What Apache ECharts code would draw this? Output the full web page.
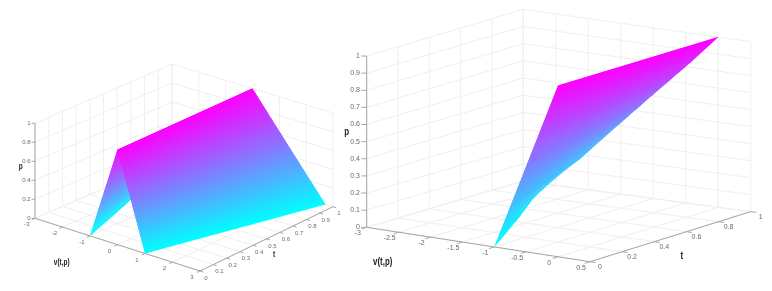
<!DOCTYPE html>
<html><head><meta charset="utf-8">
<style>html,body{margin:0;padding:0;background:#fff}#c{width:772px;height:291px;filter:blur(0.4px)}</style>
<script src="https://cdn.jsdelivr.net/npm/echarts@6/dist/echarts.min.js"></script>
</head><body><div id="c"></div>
<script>
// ---- data ----
const leftVTicks = [-3,-2,-1,0,1,2,3];
const leftTTicks = [0,0.1,0.2,0.3,0.4,0.5,0.6,0.7,0.8,0.9,1];
const leftPTicks = [0,0.2,0.4,0.6,0.8,1];
const rightVTicks = [-3,-2.5,-2,-1.5,-1,-0.5,0,0.5];
const rightTTicks = [0,0.2,0.4,0.6,0.8,1];
const rightPTicks = [0,0.1,0.2,0.3,0.4,0.5,0.6,0.7,0.8,0.9,1];

// branch v<0 of the surface: rows of constant p, from the t=0 edge to the far edge
const lowerP     = [0,0.05,0.1,0.135,0.17,0.2,0.23,0.294,0.433,0.63,0.824,1];
const lowerNearV = [-1,-0.95,-0.9,-0.865,-0.83,-0.8,-0.77,-0.706,-0.567,-0.37,-0.176,0];
const lowerFarV  = [-1,-1.39,-1.66,-1.74,-1.76,-1.785,-1.787,-1.82,-1.46,-0.947,-0.436,0];
const lowerFarT  = [0,0.3,0.51,0.62,0.705,0.785,0.86,1,1,1,1,1];
// branch v>0 of the surface (left panel)
const upperP     = [0,1];
const upperNearV = [1,0];
const upperFarV  = [2.72,0];
const upperFarT  = [1,1];

// ---- view of each panel ----
const leftView = {
  v:[-3,3], A:[35,218.3,123.3], B:[200,271,176], C:[333,206.7,113], D:[172,159,64],
  tick:3.5, vOff:[-8,6.5], tOff:[6,7], pX:30.5, font:6, nameFont:9,
  names:[['p',20.7,167],['v(t,p)',61.7,262.7],['t',274,255]]
};
const rightView = {
  v:[-3,0.5], A:[366.7,227.3,56], B:[590,261.7,90.4], C:[750.7,211.7,41.7], D:[523.3,181,9.3],
  tick:5.5, vOff:[-9,6], tOff:[10,5.5], pX:360, font:7, nameFont:11,
  names:[['p',346.7,132.3],['v(t,p)',382.7,262.3],['t',681.7,255.7]]
};

function project(view, v, t, p) {
  const u = (v - view.v[0]) / (view.v[1] - view.v[0]);
  const mix = i => (1-u)*(1-t)*view.A[i] + u*(1-t)*view.B[i] + u*t*view.C[i] + (1-u)*t*view.D[i];
  const floor = mix(1), top = mix(2);
  return [mix(0), floor + (top - floor) * p];
}
const GRID = '#efefef', AXIS = '#a6a6a6', LABEL = '#6a6a6a';

function segments(view, vT, tT, pT) {
  const [v0, v1] = view.v, out = [];
  vT.forEach(v => { out.push([v,0,0,v,1,0,GRID]); out.push([v,1,0,v,1,1,GRID]); });
  tT.forEach(t => { out.push([v0,t,0,v1,t,0,GRID]); out.push([v0,t,0,v0,t,1,GRID]); });
  pT.forEach(p => { out.push([v0,0,p,v0,1,p,GRID]); out.push([v0,1,p,v1,1,p,GRID]); });
  return out;
}
function axes(view) {
  const [v0, v1] = view.v;
  return [[v0,0,0,v1,0,0,AXIS],[v1,0,0,v1,1,0,AXIS],[v0,0,0,v0,0,1,AXIS]];
}
// colour bands of the mesh, painted from p=0 upward; each band reaches into the next so no seams show
function strips(view, P, nearV, farV, farT) {
  const out = [], total = 120;
  const at = q => {
    let i = 0; while (i < P.length - 2 && q > P[i+1]) i++;
    const f = (q - P[i]) / (P[i+1] - P[i]);
    return [q, nearV[i]+(nearV[i+1]-nearV[i])*f, farV[i]+(farV[i+1]-farV[i])*f, farT[i]+(farT[i+1]-farT[i])*f];
  };
  const qs = P.slice();
  for (let k = 1; k < total; k++) qs.push(k/total);
  qs.sort((a,b) => a-b);
  for (let k = 0; k < qs.length - 1; k++) {
    if (qs[k+1] - qs[k] < 1e-6) continue;
    const pts = [];
    const end = qs[Math.min(k+2, qs.length-1)];
    const span = [qs[k], qs[k+1]]; if (end > qs[k+1]) span.push(end);
    span.forEach(q => { const r = at(q); pts.push(project(view, r[1], 0, q)); });
    span.slice().reverse().forEach(q => { const r = at(q); pts.push(project(view, r[2], r[3], q)); });
    out.push({pts, p:(qs[k]+qs[k+1])/2});
  }
  return out;
}
const fmt = x => String(x);
function labels(view, vT, tT, pT) {
  const [v0, v1] = view.v, out = [];
  vT.forEach(v => { const q = project(view,v,0,0);
    out.push([q[0]+view.vOff[0], q[1]+view.vOff[1], fmt(v), 'center', view.font, LABEL, 'normal', 1]); });
  tT.forEach(t => { const q = project(view,v1,t,0);
    out.push([q[0]+view.tOff[0], q[1]+view.tOff[1], fmt(t), 'center', view.font, LABEL, 'normal', 1]); });
  pT.forEach(p => { const q = project(view,v0,0,p);
    out.push([view.pX, q[1], fmt(p), 'right', view.font, LABEL, 'normal', 1]); });
  view.names.forEach(n => out.push([n[1], n[2], n[0], 'center', view.nameFont, '#222', 'bold', 0.72]));
  return out;
}
function ticks(view, vT, tT, pT) {
  const [v0, v1] = view.v, out = [], L = view.tick;
  vT.forEach(v => { const a = project(view,v,0,0), b = project(view,v,1,0), d = Math.hypot(b[0]-a[0],b[1]-a[1]);
    out.push([a[0],a[1],a[0]-(b[0]-a[0])/d*L,a[1]-(b[1]-a[1])/d*L]); });
  tT.forEach(t => { const a = project(view,v1,t,0), b = project(view,v0,t,0), d = Math.hypot(b[0]-a[0],b[1]-a[1]);
    out.push([a[0],a[1],a[0]-(b[0]-a[0])/d*L,a[1]-(b[1]-a[1])/d*L]); });
  pT.forEach(p => { const a = project(view,v0,0,p); out.push([a[0],a[1],a[0]-L,a[1]]); });
  return out;
}
const base = {type:'custom', coordinateSystem:'cartesian2d', silent:true, animation:false, clip:false, encode:{x:[],y:[]}};
const lineSeries = (view, data) => ({...base, data: data.map((d,i)=>[i]),
  renderItem:(ps, api) => {
    const d = data[ps.dataIndex];
    const a = api.coord(project(view,d[0],d[1],d[2])), b = api.coord(project(view,d[3],d[4],d[5]));
    return {type:'line', shape:{x1:a[0],y1:a[1],x2:b[0],y2:b[1]}, style:{stroke:d[6], lineWidth:1, fill:null}};
  }
});
const tickSeries = (data) => ({...base, data: data.map((d,i)=>[i]),
  renderItem:(ps, api) => {
    const d = data[ps.dataIndex];
    const a = api.coord([d[0],d[1]]), b = api.coord([d[2],d[3]]);
    return {type:'line', shape:{x1:a[0],y1:a[1],x2:b[0],y2:b[1]}, style:{stroke:AXIS, lineWidth:1, fill:null}};
  }
});
const surfaceSeries = (data) => ({...base, data: data.map((d,i)=>[i]),
  renderItem:(ps, api) => {
    const d = data[ps.dataIndex];
    const c = `rgb(${Math.round(d.p*255)},${Math.round((1-d.p)*255)},255)`;
    return {type:'polygon', shape:{points:d.pts.map(q=>api.coord(q))}, style:{fill:c}};
  }
});
const textSeries = (data) => ({...base, data: data.map((d,i)=>[i]),
  renderItem:(ps, api) => {
    const d = data[ps.dataIndex], q = api.coord([d[0],d[1]]);
    return {type:'text', x:q[0], y:q[1], scaleX:d[7], style:{text:d[2], align:d[3], verticalAlign:'middle',
      font:`${d[6]} ${d[4]}px "Liberation Sans", Arial, sans-serif`, fill:d[5]}};
  }
});

const chart = echarts.init(document.getElementById('c'), null, {renderer:'canvas'});
chart.setOption({
  animation:false, backgroundColor:'#fff',
  grid:{left:0,right:0,top:0,bottom:0},
  xAxis:{type:'value',min:0,max:772,show:false},
  yAxis:{type:'value',min:0,max:291,inverse:true,show:false},
  series:[
    lineSeries(leftView, segments(leftView,leftVTicks,leftTTicks,leftPTicks)),
    lineSeries(rightView, segments(rightView,rightVTicks,rightTTicks,rightPTicks)),
    lineSeries(leftView, axes(leftView)),
    lineSeries(rightView, axes(rightView)),
    tickSeries(ticks(leftView,leftVTicks,leftTTicks,leftPTicks)),
    tickSeries(ticks(rightView,rightVTicks,rightTTicks,rightPTicks)),
    surfaceSeries(strips(leftView,lowerP,lowerNearV,lowerFarV,lowerFarT)),
    surfaceSeries(strips(leftView,upperP,upperNearV,upperFarV,upperFarT)),
    surfaceSeries(strips(rightView,lowerP,lowerNearV,lowerFarV,lowerFarT)),
    textSeries(labels(leftView,leftVTicks,leftTTicks,leftPTicks)),
    textSeries(labels(rightView,rightVTicks,rightTTicks,rightPTicks))
  ]
});
</script></body></html>
